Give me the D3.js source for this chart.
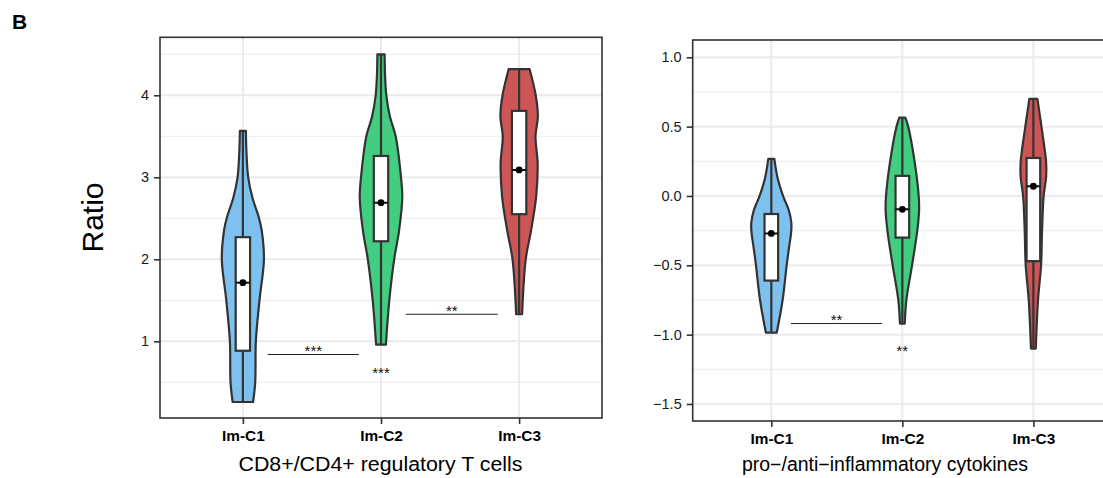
<!DOCTYPE html>
<html><head><meta charset="utf-8">
<script src="https://cdn.jsdelivr.net/npm/d3@7"></script>
<style>body{margin:0;background:#fff}svg{display:block}</style>
</head><body><svg id="chart" width="1103" height="478"></svg>
<script>
// ---------------- DATA ----------------
const categories = ["Im-C1", "Im-C2", "Im-C3"];
const fills = ["#7EC0EE", "#43CD80", "#CD5555"];

// Left panel: CD8+/CD4+ regulatory T cells
const leftTitle = "CD8+/CD4+ regulatory T cells";
const leftYLabel = "Ratio";
const leftTicks = [1, 2, 3, 4];
const leftTickLabels = ["1", "2", "3", "4"];
const leftMinor = [0.5, 1.5, 2.5, 3.5, 4.5];
const leftLimits = [0.065, 4.707];
// violin outlines: [value, relative density]
const leftViolinC1 = [[3.565,0.14],[3.3,0.17],[3.0,0.25],[2.75,0.45],[2.52,0.74],[2.36,0.88],[2.0,0.99],[1.5,0.78],[1.0,0.61],[0.5,0.58],[0.26,0.48]];
const leftViolinC2 = [[4.50,0.17],[4.25,0.19],[4.0,0.25],[3.74,0.42],[3.5,0.69],[3.0,0.94],[2.76,1.0],[2.35,0.85],[2.0,0.62],[1.5,0.39],[0.96,0.23]];
const leftViolinC3 = [[4.32,0.49],[4.0,0.78],[3.74,0.88],[3.5,0.77],[3.17,0.87],[2.76,0.80],[2.35,0.56],[2.0,0.31],[1.33,0.14]];
const leftQ1 = [0.885, 2.22, 2.55];
const leftMedian = [1.715, 2.69, 3.09];
const leftQ3 = [2.27, 3.26, 3.81];
const leftBrackets = [
  {from: 1.18, to: 1.84, y: 0.84, label: "***"},
  {from: 2.18, to: 2.845, y: 1.33, label: "**"}
];
const leftMarks = [{cat: 2, y: 0.65, label: "***"}];

// Right panel: pro-/anti-inflammatory cytokines
const rightTitle = "pro\u2212/anti\u2212inflammatory cytokines";
const rightTicks = [-1.5, -1, -0.5, 0, 0.5, 1];
const rightTickLabels = ["\u22121.5", "\u22121.0", "\u22120.5", "0.0", "0.5", "1.0"];
const rightMinor = [-1.25, -0.75, -0.25, 0.25, 0.75];
const rightLimits = [-1.6226, 1.1247];
const rightViolinC1 = [[0.267,0.15],[0.13,0.31],[0.0,0.58],[-0.1,0.86],[-0.19,0.99],[-0.25,0.99],[-0.39,0.86],[-0.5,0.76],[-0.75,0.56],[-0.985,0.27]];
const rightViolinC2 = [[0.565,0.15],[0.5,0.29],[0.245,0.61],[0.0,0.81],[-0.1,0.83],[-0.25,0.74],[-0.5,0.48],[-0.75,0.2],[-0.92,0.12]];
const rightViolinC3 = [[0.70,0.2],[0.5,0.4],[0.245,0.63],[0.137,0.63],[0.0,0.51],[-0.25,0.43],[-0.5,0.38],[-0.75,0.23],[-1.10,0.12]];
const rightQ1 = [-0.61, -0.30, -0.47];
const rightMedian = [-0.27, -0.096, 0.07];
const rightQ3 = [-0.13, 0.145, 0.274];
const rightBrackets = [{from: 1.15, to: 1.845, y: -0.92, label: "**"}];
const rightMarks = [{cat: 2, y: -1.097, label: "**"}];

const panelLetter = "B";

// ---------------- DRAWING ----------------
const svg = d3.select("#chart");
const FONT = "'Liberation Sans', Arial, Helvetica, sans-serif";
const dark = "#333333";

svg.append("text").attr("x", 12).attr("y", 29).attr("font-family", FONT)
  .attr("font-weight", "bold").attr("font-size", 21).attr("fill", "#000").text(panelLetter);

function panel(cfg) {
  const g = svg.append("g");
  const x = d3.scaleLinear().domain([0.4, 3.6]).range([cfg.x0, cfg.x1]);
  const y = d3.scaleLinear().domain(cfg.limits).range([cfg.y1, cfg.y0]);
  const clipId = "clip" + cfg.id;
  svg.append("clipPath").attr("id", clipId).append("rect")
    .attr("x", cfg.x0).attr("y", cfg.y0).attr("width", cfg.x1 - cfg.x0).attr("height", cfg.y1 - cfg.y0);
  const inner = g.append("g").attr("clip-path", `url(#${clipId})`);

  // grid
  inner.selectAll(".minor").data(cfg.minor).join("line")
    .attr("x1", cfg.x0).attr("x2", cfg.x1).attr("y1", d => y(d)).attr("y2", d => y(d))
    .attr("stroke", "#ebebeb").attr("stroke-width", 1);
  inner.selectAll(".major").data(cfg.ticks).join("line")
    .attr("x1", cfg.x0).attr("x2", cfg.x1).attr("y1", d => y(d)).attr("y2", d => y(d))
    .attr("stroke", "#ebebeb").attr("stroke-width", 2);
  inner.selectAll(".vmajor").data(categories).join("line")
    .attr("x1", (d, i) => x(i + 1)).attr("x2", (d, i) => x(i + 1))
    .attr("y1", cfg.y0).attr("y2", cfg.y1)
    .attr("stroke", "#ebebeb").attr("stroke-width", 2);

  const unit = x(1) - x(0);
  const maxHalf = 0.154 * unit;

  cfg.violins.forEach((v, i) => {
    const cx = x(i + 1);
    const area = d3.area()
      .y(d => y(d[0]))
      .x0(d => cx - d[1] * maxHalf)
      .x1(d => cx + d[1] * maxHalf)
      .curve(d3.curveCatmullRom.alpha(0.5));
    inner.append("path").attr("d", area(v))
      .attr("fill", fills[i]).attr("stroke", dark).attr("stroke-width", 2.2).attr("stroke-linejoin", "round");
    const vmax = d3.max(v, d => d[0]), vmin = d3.min(v, d => d[0]);
    inner.append("line").attr("x1", cx).attr("x2", cx).attr("y1", y(vmax)).attr("y2", y(vmin))
      .attr("stroke", dark).attr("stroke-width", 2.2);
    const bh = 0.052 * unit;
    inner.append("rect").attr("x", cx - bh).attr("width", 2 * bh)
      .attr("y", y(cfg.q3[i])).attr("height", y(cfg.q1[i]) - y(cfg.q3[i]))
      .attr("fill", "#fff").attr("stroke", dark).attr("stroke-width", 2.2);
    inner.append("line").attr("x1", cx - bh).attr("x2", cx + bh)
      .attr("y1", y(cfg.med[i])).attr("y2", y(cfg.med[i]))
      .attr("stroke", "#111").attr("stroke-width", 2);
    inner.append("circle").attr("cx", cx).attr("cy", y(cfg.med[i])).attr("r", 3.4).attr("fill", "#000");
  });

  // brackets
  cfg.brackets.forEach(b => {
    g.append("line").attr("x1", x(b.from)).attr("x2", x(b.to)).attr("y1", y(b.y)).attr("y2", y(b.y))
      .attr("stroke", "#222").attr("stroke-width", 1.1);
    g.append("text").attr("x", (x(b.from) + x(b.to)) / 2).attr("y", y(b.y) - 6.5).attr("dy", "0.53em")
      .attr("text-anchor", "middle").attr("font-family", FONT).attr("font-size", 15).attr("fill", "#111").text(b.label);
  });
  cfg.marks.forEach(m => {
    g.append("text").attr("x", x(m.cat)).attr("y", y(m.y)).attr("dy", "0.53em")
      .attr("text-anchor", "middle").attr("font-family", FONT).attr("font-size", 15).attr("fill", "#111").text(m.label);
  });

  // border
  g.append("rect").attr("x", cfg.x0).attr("y", cfg.y0).attr("width", cfg.x1 - cfg.x0).attr("height", cfg.y1 - cfg.y0)
    .attr("fill", "none").attr("stroke", dark).attr("stroke-width", 1.6);

  // y axis
  const ya = d3.axisLeft(y).tickValues(cfg.ticks).tickSize(6).tickPadding(5)
    .tickFormat((d, i) => cfg.tickLabels[i]);
  const yg = g.append("g").attr("transform", `translate(${cfg.x0},0)`).call(ya);
  yg.select(".domain").remove();
  yg.selectAll(".tick line").attr("stroke", dark).attr("stroke-width", 1.6);
  yg.selectAll(".tick text").attr("font-family", FONT).attr("font-size", 14.5).attr("fill", "#1a1a1a");

  // x axis
  const xa = d3.axisBottom(x).tickValues([1, 2, 3]).tickSize(6).tickPadding(7)
    .tickFormat((d, i) => categories[i]);
  const xg = g.append("g").attr("transform", `translate(0,${cfg.y1})`).call(xa);
  xg.select(".domain").remove();
  xg.selectAll(".tick line").attr("stroke", dark).attr("stroke-width", 1.6);
  xg.selectAll(".tick text").attr("font-family", FONT).attr("font-size", 14).attr("font-weight", "bold").attr("fill", "#000")
    .attr("transform", "scale(1.1,1)").attr("x", 0);

  const t = g.append("text").attr("x", cfg.titleX).attr("y", 471).attr("text-anchor", "middle")
    .attr("font-family", FONT).attr("font-size", 19.5).attr("fill", "#000").text(cfg.title);
  if (cfg.titleLen) t.attr("textLength", cfg.titleLen).attr("lengthAdjust", "spacingAndGlyphs");

  return {x, y};
}

panel({id: "L", x0: 160, x1: 602, y0: 37.3, y1: 418, limits: leftLimits,
  ticks: leftTicks, tickLabels: leftTickLabels, minor: leftMinor,
  violins: [leftViolinC1, leftViolinC2, leftViolinC3], q1: leftQ1, med: leftMedian, q3: leftQ3,
  brackets: leftBrackets, marks: leftMarks, title: leftTitle, titleX: 380.5, titleLen: 284});

panel({id: "R", x0: 692.7, x1: 1112, y0: 40, y1: 421, limits: rightLimits,
  ticks: rightTicks, tickLabels: rightTickLabels, minor: rightMinor,
  violins: [rightViolinC1, rightViolinC2, rightViolinC3], q1: rightQ1, med: rightMedian, q3: rightQ3,
  brackets: rightBrackets, marks: rightMarks, title: rightTitle, titleX: 885});

svg.append("text").attr("transform", "translate(103,217.5) rotate(-90)").attr("text-anchor", "middle")
  .attr("font-family", FONT).attr("font-size", 30).attr("fill", "#000").text(leftYLabel);
</script></body></html>
